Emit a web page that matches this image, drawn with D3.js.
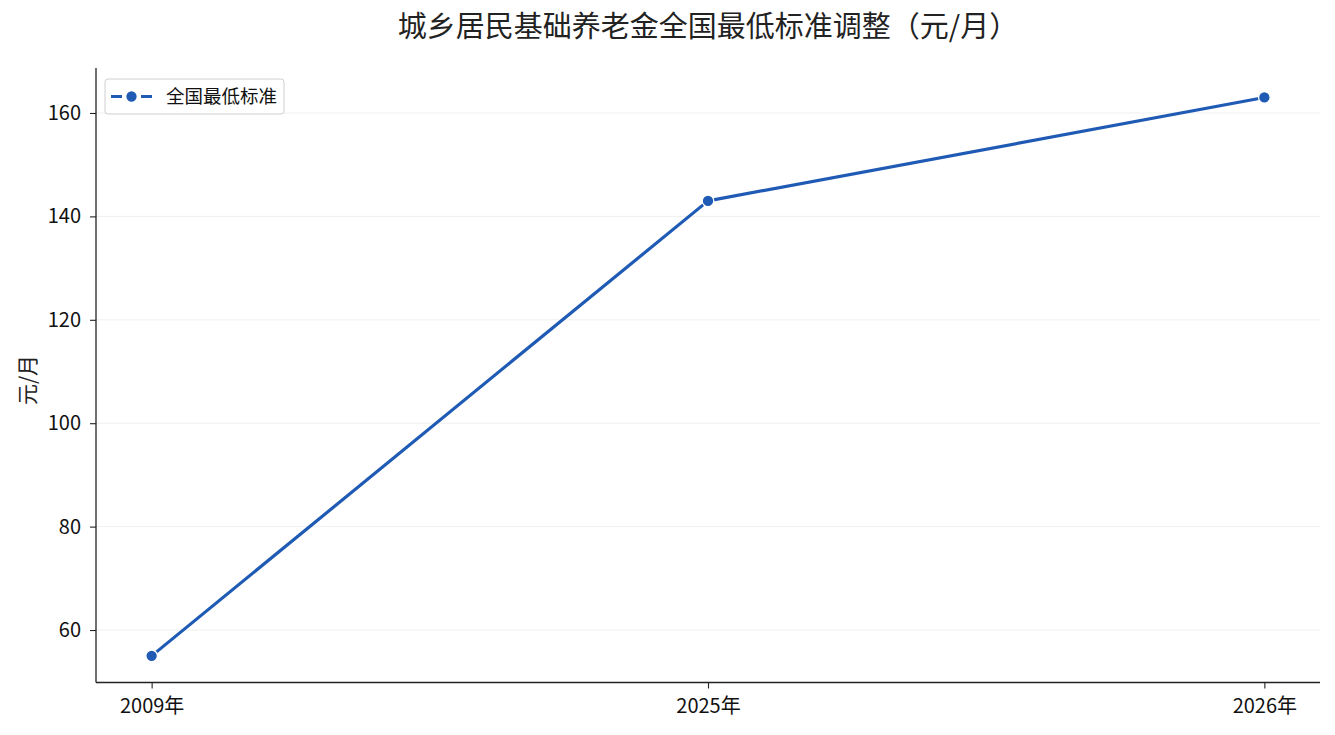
<!DOCTYPE html>
<html><head><meta charset="utf-8">
<script src="https://cdn.jsdelivr.net/npm/d3@7"></script>
<style>
html,body{margin:0;padding:0;background:#fff;}
text{font-family:"Noto Sans CJK SC","Noto Sans",sans-serif;}
</style></head>
<body><svg id="c" width="1335" height="735"></svg>
<script>
const categories = ["2009年","2025年","2026年"];
const values = [55,143,163];
const yTicks = [60,80,100,120,140,160];
const seriesName = "全国最低标准";
const title = "城乡居民基础养老金全国最低标准调整（元/月）";
const yLabel = "元/月";

const W=1335,H=735;
const m={l:96,r:15,t:68,b:52.5};
const svg=d3.select("#c");
const color="#1f5ab4";

const x=d3.scaleLinear().domain([-0.1,categories.length-1+0.1]).range([m.l,W-m.r]);
const y=d3.scaleLinear().domain([49.85,168.7]).range([H-m.b,m.t]);

// grid
svg.append("g").selectAll("line").data(yTicks).join("line")
 .attr("x1",m.l).attr("x2",W-m.r).attr("y1",d=>y(d)).attr("y2",d=>y(d))
 .attr("stroke","#ebebeb").attr("stroke-width",0.8);

// axes
const ya=svg.append("g").attr("transform",`translate(${m.l},0)`)
 .call(d3.axisLeft(y).tickValues(yTicks).tickSize(6).tickPadding(9));
const xa=svg.append("g").attr("transform",`translate(0,${H-m.b})`)
 .call(d3.axisBottom(x).tickValues(d3.range(categories.length)).tickFormat(i=>categories[i]).tickSize(6).tickPadding(10));
[ya,xa].forEach(a=>{
 a.select(".domain").attr("stroke","#222").attr("stroke-width",1.3);
 a.selectAll(".tick line").attr("stroke","#222").attr("stroke-width",1.1);
 a.selectAll(".tick text").attr("fill","#111").style("font-size","20px");
});
ya.select(".domain").attr("d",`M0,${m.t}V${H-m.b}`);
xa.select(".domain").attr("d",`M${m.l},0H${W-m.r}`);

// line
const line=d3.line().x((d,i)=>x(i)).y(d=>y(d));
svg.append("path").datum(values).attr("d",line).attr("fill","none")
 .attr("stroke",color).attr("stroke-width",3.2).attr("stroke-linejoin","round");
svg.append("g").selectAll("circle").data(values).join("circle")
 .attr("cx",(d,i)=>x(i)).attr("cy",d=>y(d)).attr("r",5.8)
 .attr("fill",color).attr("stroke","#fff").attr("stroke-width",1.3);

// title
svg.append("text").attr("x",(m.l+W-m.r)/2).attr("y",37).attr("text-anchor","middle")
 .style("font-size","29px").attr("fill","#222").text(title);
// y label
svg.append("text").attr("transform",`translate(35,380) rotate(-90)`)
 .attr("text-anchor","middle").style("font-size","21px").attr("fill","#222").text(yLabel);

// legend
const lg=svg.append("g");
lg.append("rect").attr("x",105).attr("y",79).attr("width",179).attr("height",35).attr("rx",3)
 .attr("fill","#fff").attr("stroke","#cfcfcf").attr("stroke-width",1);
lg.append("line").attr("x1",111).attr("x2",152).attr("y1",96.5).attr("y2",96.5)
 .attr("stroke",color).attr("stroke-width",3.2).attr("stroke-dasharray","11,4,11,4");
lg.append("circle").attr("cx",131.5).attr("cy",96.5).attr("r",5.8).attr("fill",color).attr("stroke","#fff").attr("stroke-width",1.3);
lg.append("text").attr("x",166).attr("y",103).style("font-size","18.5px").attr("fill","#111").text(seriesName);
</script></body></html>
